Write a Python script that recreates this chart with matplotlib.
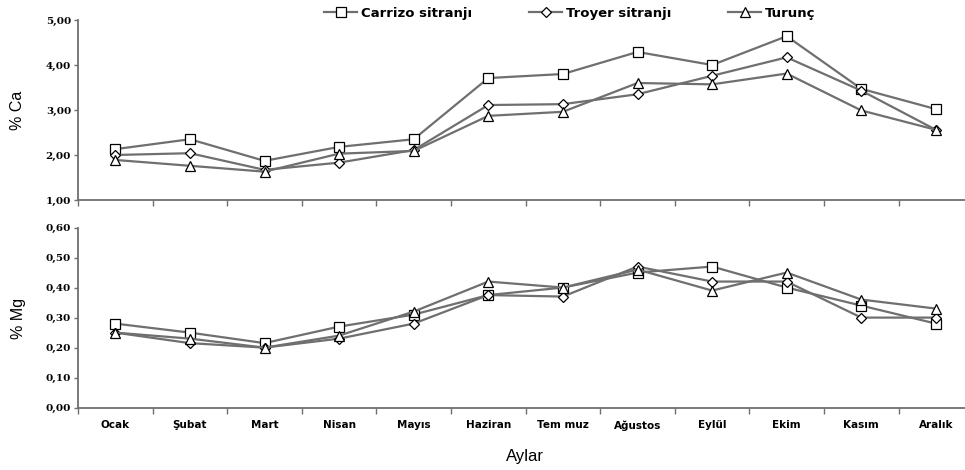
import numpy as np
import matplotlib
matplotlib.use("Agg")
from matplotlib import pyplot as plt
from matplotlib.ticker import FixedLocator, FuncFormatter

months = ["Ocak", "Şubat", "Mart", "Nisan", "Mayıs", "Haziran",
          "Tem muz", "Ağustos", "Eylül", "Ekim", "Kasım", "Aralık"]
series = ["Carrizo sitranjı", "Troyer sitranjı", "Turunç"]

ca_carrizo = [2.13, 2.35, 1.87, 2.18, 2.35, 3.71, 3.80, 4.29, 4.00, 4.64, 3.47, 3.02]
ca_troyer = [2.00, 2.04, 1.67, 1.83, 2.11, 3.11, 3.13, 3.35, 3.76, 4.17, 3.43, 2.56]
ca_turunc = [1.89, 1.76, 1.63, 2.03, 2.09, 2.87, 2.96, 3.60, 3.57, 3.81, 2.99, 2.56]

mg_carrizo = [0.28, 0.25, 0.215, 0.27, 0.31, 0.375, 0.40, 0.45, 0.47, 0.40, 0.34, 0.28]
mg_troyer = [0.25, 0.215, 0.20, 0.23, 0.28, 0.375, 0.37, 0.47, 0.42, 0.42, 0.30, 0.30]
mg_turunc = [0.25, 0.23, 0.20, 0.24, 0.32, 0.42, 0.40, 0.46, 0.39, 0.45, 0.36, 0.33]

markers = ["s", "D", "^"]
msizes = [7, 5.5, 7.5]
line_col = "#6f6f6f"
x = np.arange(len(months))

fig = plt.figure(figsize=(9.65, 4.7), dpi=100)
ax1 = fig.add_axes([78 / 965, 1 - 200 / 470, 887 / 965, 180 / 470])
ax2 = fig.add_axes([78 / 965, 1 - 407.7 / 470, 887 / 965, 180.2 / 470])

tick_font = dict(family="DejaVu Serif", weight="bold", size=7.5)


def style(ax, ylim, yticks):
    ax.set_xlim(-0.5, 11.39)
    ax.set_ylim(*ylim)
    for s in ["top", "right"]:
        ax.spines[s].set_visible(False)
    for s in ["left", "bottom"]:
        ax.spines[s].set_color("#707070")
        ax.spines[s].set_linewidth(1.3)
    ax.set_yticks(yticks)
    ax.yaxis.set_major_formatter(FuncFormatter(lambda v, p: f"{v:.2f}".replace(".", ",")))
    for lab in ax.get_yticklabels():
        lab.set_fontproperties(matplotlib.font_manager.FontProperties(**tick_font))
    ax.tick_params(axis="y", length=3, width=1, color="#707070", pad=2)
    ax.xaxis.set_major_locator(FixedLocator(x))
    ax.xaxis.set_minor_locator(FixedLocator(np.arange(-0.5, 11.6, 1)))
    ax.tick_params(axis="x", which="major", length=0)
    ax.tick_params(axis="x", which="minor", length=4, width=1, color="#707070")


style(ax1, (1, 5), [1, 2, 3, 4, 5])
style(ax2, (0, 0.6), [0, 0.1, 0.2, 0.3, 0.4, 0.5, 0.6])

handles = []
for vals, m, ms, name in zip([ca_carrizo, ca_troyer, ca_turunc], markers, msizes, series):
    h, = ax1.plot(x, vals, color=line_col, lw=1.6, marker=m, ms=ms,
                  mfc="white", mec="black", mew=0.9, label=name, clip_on=False)
    handles.append(h)
for vals, m, ms in zip([mg_carrizo, mg_troyer, mg_turunc], markers, msizes):
    ax2.plot(x, vals, color=line_col, lw=1.6, marker=m, ms=ms,
             mfc="white", mec="black", mew=0.9, clip_on=False)

ax1.set_xticklabels([])
ax2.set_xticklabels(months, fontdict=dict(family="DejaVu Sans", weight="bold", size=7.5))
ax2.tick_params(axis="x", which="major", pad=9)

fig.text(18 / 965, 1 - 110 / 470, "% Ca", rotation=90, ha="center", va="center",
         family="Liberation Sans", size=11.5)
fig.text(18 / 965, 1 - 318 / 470, "% Mg", rotation=90, ha="center", va="center",
         family="Liberation Sans", size=11.5)
fig.text(525 / 965, 1 - 457 / 470, "Aylar", ha="center", va="center",
         family="Liberation Sans", size=12)

fig.legend(handles=handles, loc="center", bbox_to_anchor=(570 / 965, 1 - 13 / 470),
           ncol=3, frameon=False, handlelength=2.5, columnspacing=4.3, handletextpad=0.3,
           prop=dict(family="DejaVu Sans", weight="bold", size=9.5))

fig.savefig("out.png", dpi=100)
